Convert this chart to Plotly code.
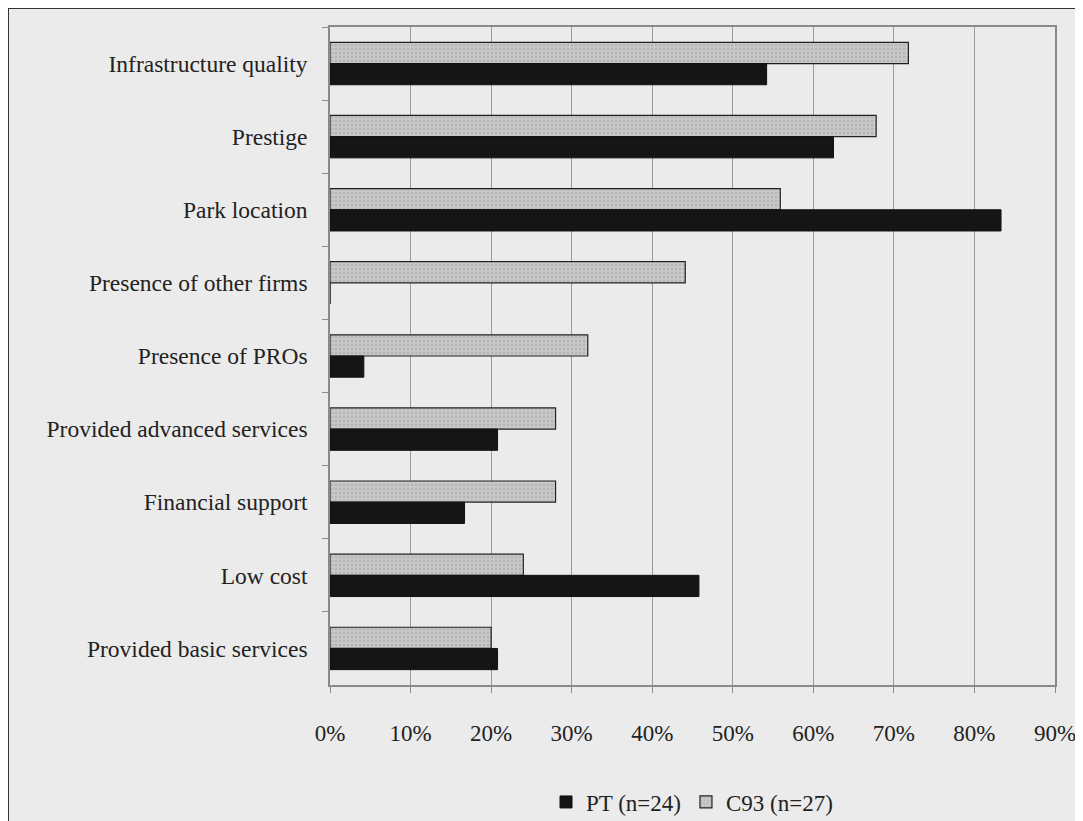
import plotly.graph_objects as go

categories = ["Infrastructure quality", "Prestige", "Park location", "Presence of other firms",
              "Presence of PROs", "Provided advanced services", "Financial support", "Low cost",
              "Provided basic services"]
pt_values = [54.2, 62.5, 83.3, 0.0, 4.2, 20.8, 16.7, 45.8, 20.8]
c93_values = [71.8, 67.8, 55.9, 44.1, 32.0, 28.0, 28.0, 24.0, 20.0]
tick_vals = [0, 10, 20, 30, 40, 50, 60, 70, 80, 90]
tick_text = [f"{v}%" for v in tick_vals]

OFF = 8  # page body margin
W, H = 1083 - OFF, 821 - OFF
L, R, T, B = 330 - OFF, 1055 - OFF, 27 - OFF, 685 - OFF
pw, ph = R - L, B - T

def px_x(p):
    return (p - OFF - L) / pw

def px_y(p):
    return (B - (p - OFF)) / ph

BG = "#ebebeb"

fig = go.Figure()
fig.add_trace(go.Bar(
    y=categories, x=c93_values, orientation="h", name="C93 (n=27)", legendrank=2,
    marker=dict(color="#c4c4c4", line=dict(color="#222222", width=1.2),
                pattern=dict(shape=".", fgcolor="#a0a0a0", bgcolor="#c8c8c8", size=4, solidity=0.3)),
))
fig.add_trace(go.Bar(
    y=categories, x=pt_values, orientation="h", name="PT (n=24)", legendrank=1,
    marker=dict(color="#151515", line=dict(color="#111111", width=1)),
))

fig.update_layout(
    width=W, height=H,
    margin=dict(l=L, r=W - R, t=T, b=H - B, autoexpand=False),
    paper_bgcolor=BG, plot_bgcolor=BG,
    barmode="group", bargap=0.42, bargroupgap=0.0,
    font=dict(family="Liberation Serif", size=23, color="#222222"),
    showlegend=True,
    legend=dict(orientation="h", x=px_x(692), xanchor="center", y=px_y(802), yanchor="middle",
                font=dict(size=23), bgcolor="rgba(0,0,0,0)", itemwidth=30, traceorder="normal",
                tracegroupgap=0),
    xaxis=dict(range=[0, 90], tickvals=tick_vals, ticktext=tick_text,
               showgrid=True, gridcolor="#9a9a9a", gridwidth=1,
               showline=True, linecolor="#8a8a8a", linewidth=1.5, mirror=True,
               ticks="outside", ticklen=6, tickcolor="#8a8a8a",
               ticklabelstandoff=21, zeroline=False,
               tickfont=dict(size=23)),
    yaxis=dict(categoryorder="array", categoryarray=categories, autorange="reversed",
               showline=True, linecolor="#8a8a8a", linewidth=1.5, mirror=True,
               ticks="outside", ticklen=6, tickcolor="#8a8a8a", tickson="boundaries",
               ticklabelstandoff=16, showgrid=False,
               tickfont=dict(size=23.5)),
    shapes=[dict(type="rect", xref="paper", yref="paper",
                 x0=px_x(8), x1=px_x(1100), y0=px_y(840), y1=px_y(8),
                 line=dict(color="#333333", width=2), fillcolor="rgba(0,0,0,0)", layer="below")],
)

fig.write_html("out.html")
